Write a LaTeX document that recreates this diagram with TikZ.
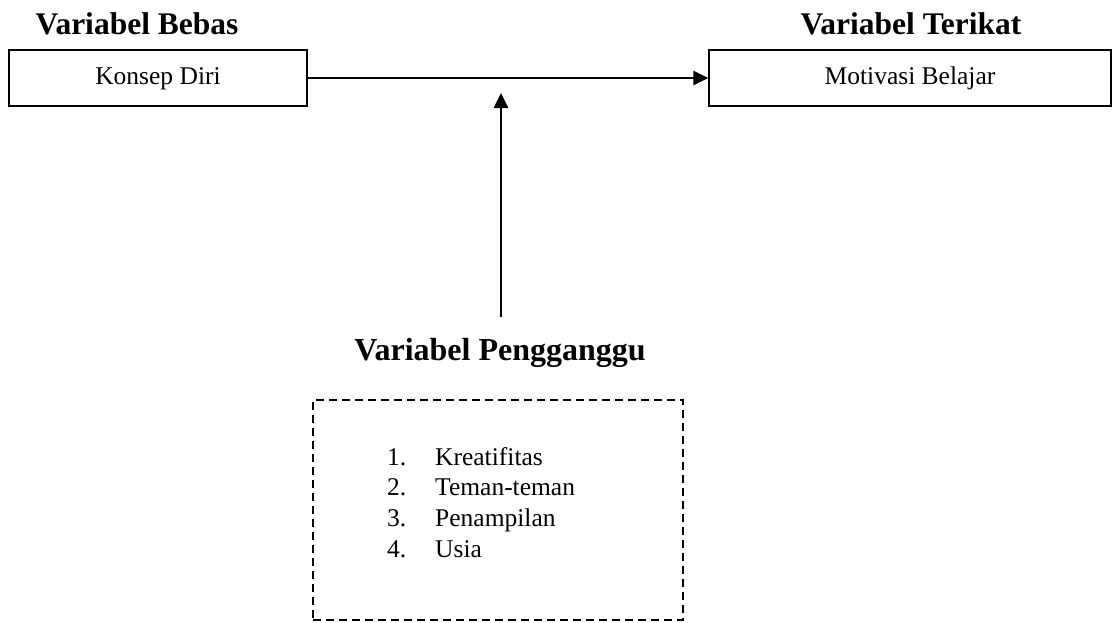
\documentclass[tikz,border=0pt]{standalone}
\usepackage{fontspec}
\setmainfont{Liberation Serif}
\usetikzlibrary{arrows.meta}
\begin{document}
\begin{tikzpicture}[x=1pt,y=-1pt,
  title/.style={font=\fontsize{31.5}{36}\selectfont\bfseries, inner sep=0pt},
  varbox/.style={draw, line width=1.5pt, minimum height=56pt, inner sep=0pt, text height=18pt, text depth=5pt, font=\fontsize{25.5}{30}\selectfont},
  conn/.style={line width=2.8pt, -{Triangle[length=15pt,width=14pt]}},
  dashbox/.style={draw, line width=1.8pt, dash pattern=on 8pt off 5pt}]
\useasboundingbox (0,0) rectangle (1113,622);
\node[title] (tb) at (137,24) {Variabel Bebas};
\node[title] (tt) at (911,24) {Variabel Terikat};
\node[varbox, minimum width=298pt] (kd) at (158,78) {Konsep Diri};
\node[varbox, minimum width=402pt] (mb) at (910,78) {Motivasi Belajar};
\draw[conn] (kd.east) -- (mb.west);
\coordinate (vs) at (501,317);
\coordinate (ve) at (501,93);
\draw[conn] (vs) -- (ve);
\node[title, font=\fontsize{32}{38}\selectfont\bfseries] (tp) at (500,353) {Variabel Pengganggu};
\node[dashbox, minimum width=370pt, minimum height=220pt, inner sep=0pt] (db) at (498,510) {};
\node[anchor=base west, inner sep=0pt, font=\fontsize{25.5}{30.7}\selectfont] (list) at (387,465)
  {\begin{tabular}[t]{@{}p{48pt}@{}l@{}}
   1. & Kreatifitas\\
   2. & Teman-teman\\
   3. & Penampilan\\
   4. & Usia
   \end{tabular}};
\end{tikzpicture}
\end{document}
